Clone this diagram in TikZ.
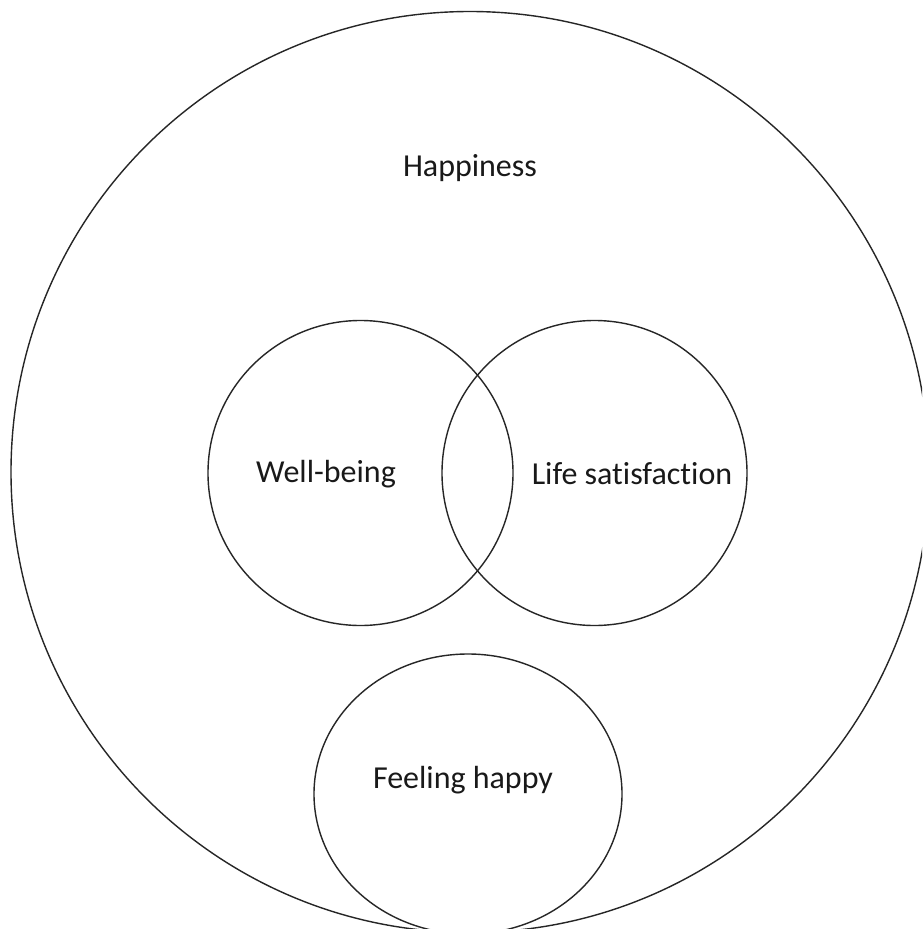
\documentclass[tikz,border=0pt]{standalone}
\usepackage{fontspec}
\setmainfont[Ligatures=NoCommon]{Carlito}
\usetikzlibrary{shapes.geometric}
\begin{document}
\begin{tikzpicture}[x=1pt,y=-1pt,
  ring/.style={draw=black!85, line width=1.4pt, inner sep=0pt, outer sep=0pt},
  lbl/.style={font=\fontsize{32}{38}\selectfont, text=black!90, inner sep=0pt}]
\useasboundingbox (0,0) rectangle (922,929);
\clip (0,0) rectangle (922,929);
\fill[white] (0,0) rectangle (922,929);
\node[ring, ellipse, minimum width=918pt, minimum height=921pt] (hap) at (470,472) {};
\node[ring, circle, minimum size=305pt] (wb) at (360.5,473) {};
\node[ring, circle, minimum size=305pt] (ls) at (594.5,473) {};
\node[ring, ellipse, minimum width=308pt, minimum height=280pt] (fh) at (468,794) {};
\node[lbl] (thap) at (470,168) {Happiness};
\node[lbl] (twb) at (326,474) {Well-being};
\node[lbl] (tls) at (632,474) {Life satisfaction};
\node[lbl] (tfh) at (463,780) {Feeling happy};
\end{tikzpicture}
\end{document}
